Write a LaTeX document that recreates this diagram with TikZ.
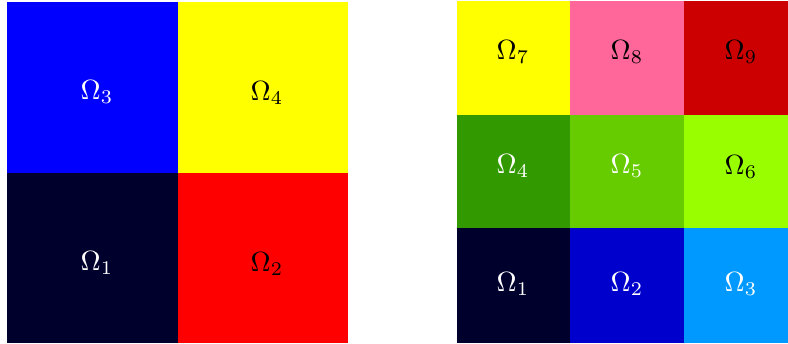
\documentclass[tikz,border=0pt]{standalone}
\usepackage{xcolor}
\usepackage{tikz}

\definecolor{navy}{RGB}{0,0,45}
\definecolor{pureyellow}{RGB}{255,255,0}
\definecolor{purered}{RGB}{255,0,0}
\definecolor{pureblue}{RGB}{0,0,255}
\definecolor{pinkish}{RGB}{255,102,153}
\definecolor{darkred}{RGB}{204,0,0}
\definecolor{greenA}{RGB}{51,153,0}
\definecolor{greenB}{RGB}{102,204,0}
\definecolor{greenC}{RGB}{153,255,0}
\definecolor{blueB}{RGB}{0,0,204}
\definecolor{blueC}{RGB}{0,153,255}

\begin{document}
\begin{tikzpicture}[
  x=0.36pt, y=0.36pt,
  lab/.style={font=\normalsize},
  wlab/.style={lab, text=white},
  blab/.style={lab, text=black},
]
  \useasboundingbox (0,0) rectangle (788,343);
  \clip (0,0) rectangle (788,343);

  % Coarse decomposition
  \fill[navy]       (7,0)         rectangle (177.5,170.5);
  \fill[purered]    (177.5,0)     rectangle (348,170.5);
  \fill[pureblue]   (7,170.5)     rectangle (177.5,341);
  \fill[pureyellow] (177.5,170.5) rectangle (348,341);

  \node[wlab] (c1) at (97,80)   {$\Omega_1$};
  \node[blab] (c2) at (267,79)  {$\Omega_2$};
  \node[wlab] (c3) at (97,251)  {$\Omega_3$};
  \node[blab] (c4) at (267,250) {$\Omega_4$};

  % Fine decomposition
  \fill[navy]       (457,0)   rectangle (570,115);
  \fill[blueB]      (570,0)   rectangle (684,115);
  \fill[blueC]      (684,0)   rectangle (798,115);
  \fill[greenA]     (457,115) rectangle (570,228);
  \fill[greenB]     (570,115) rectangle (684,228);
  \fill[greenC]     (684,115) rectangle (798,228);
  \fill[pureyellow] (457,228) rectangle (570,342);
  \fill[pinkish]    (570,228) rectangle (684,342);
  \fill[darkred]    (684,228) rectangle (798,342);

  \node[wlab] (f1) at (513,59)  {$\Omega_1$};
  \node[wlab] (f2) at (627,59)  {$\Omega_2$};
  \node[wlab] (f3) at (741,59)  {$\Omega_3$};
  \node[wlab] (f4) at (513,177) {$\Omega_4$};
  \node[wlab] (f5) at (627,177) {$\Omega_5$};
  \node[blab] (f6) at (741,176) {$\Omega_6$};
  \node[blab] (f7) at (513,291) {$\Omega_7$};
  \node[blab] (f8) at (627,291) {$\Omega_8$};
  \node[blab] (f9) at (741,291) {$\Omega_9$};
\end{tikzpicture}
\end{document}
